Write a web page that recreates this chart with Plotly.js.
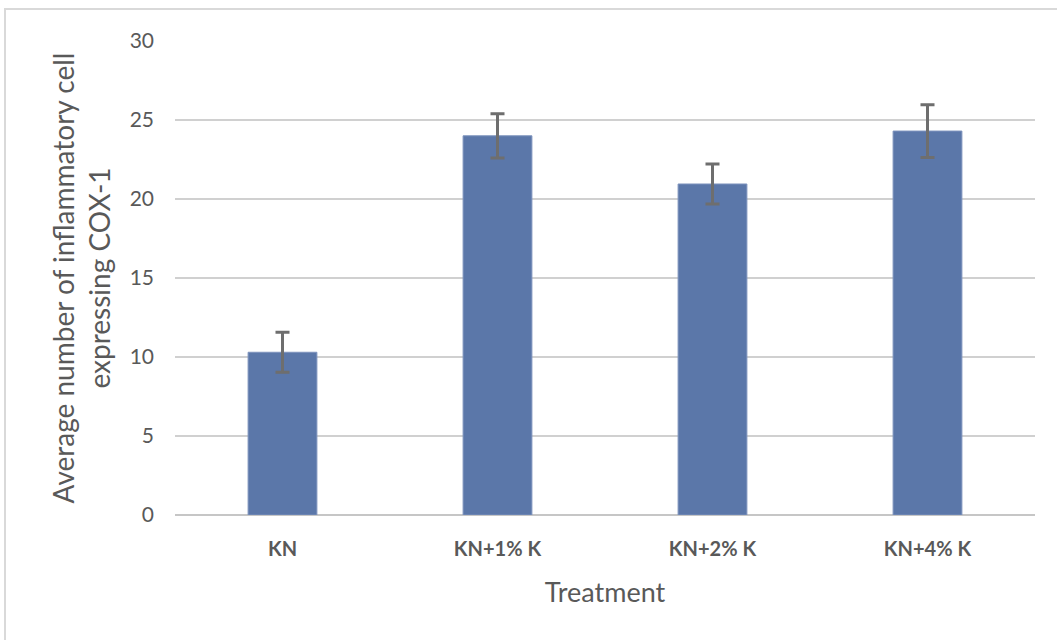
<!DOCTYPE html>
<html>
<head>
<meta charset="utf-8">
<script src="https://cdn.plot.ly/plotly-3.0.1.min.js"></script>
<style>
  html, body { margin: 0; padding: 0; background: #fff; overflow: hidden; }
  #chart { width: 1057px; height: 640px; }
  #frame { position: absolute; left: 4px; top: 8px; width: 1100px; height: 700px;
           border-left: 2px solid #d9d9d9; border-top: 2px solid #d9d9d9; pointer-events: none; }
</style>
</head>
<body>
<div id="chart"></div>
<div id="frame"></div>
<script>
const categories = ["KN", "KN+1% K", "KN+2% K", "KN+4% K"];
const means = [10.3, 24.0, 20.95, 24.3];
const errors = [1.27, 1.4, 1.27, 1.67];
const yTicks = [0, 5, 10, 15, 20, 25, 30];

const trace = {
  type: 'bar',
  x: categories,
  y: means,
  width: 0.32,
  marker: { color: '#5b77a9', line: { color: '#7d93bd', width: 1 } },
  error_y: { type: 'data', array: errors, visible: true, color: '#6e6e6e', thickness: 3, width: 7 },
  hoverinfo: 'none'
};

const layout = {
  width: 1057, height: 640,
  margin: { l: 175, r: 22, t: 41, b: 125, pad: 0 },
  paper_bgcolor: '#ffffff', plot_bgcolor: '#ffffff',
  showlegend: false,
  font: { family: 'Lato, "Open Sans", sans-serif', color: '#595959' },
  xaxis: {
    type: 'category',
    tickfont: { size: 20, color: '#595959', family: 'Lato, sans-serif', weight: 'bold' },
    ticks: '', ticklabelstandoff: 20,
    showgrid: false, zeroline: false,
    showline: false,
    title: { text: 'Treatment', font: { size: 27, color: '#595959' }, standoff: 24 }
  },
  yaxis: {
    range: [0, 30],
    tickvals: yTicks,
    ticktext: yTicks.map(String),
    tickfont: { size: 21, color: '#595959' },
    ticks: '', ticklabelstandoff: 20,
    showgrid: true, gridcolor: '#d0d0d0', gridwidth: 2,
    zeroline: true, zerolinecolor: '#c6c6c6', zerolinewidth: 2,
    showline: false,
    title: { text: 'Average number of inflammatory cell<br>expressing COX-1', font: { size: 28, color: '#595959' }, standoff: 10 }
  }
};

Plotly.newPlot('chart', [trace], layout, { staticPlot: true, displayModeBar: false });
</script>
</body>
</html>
